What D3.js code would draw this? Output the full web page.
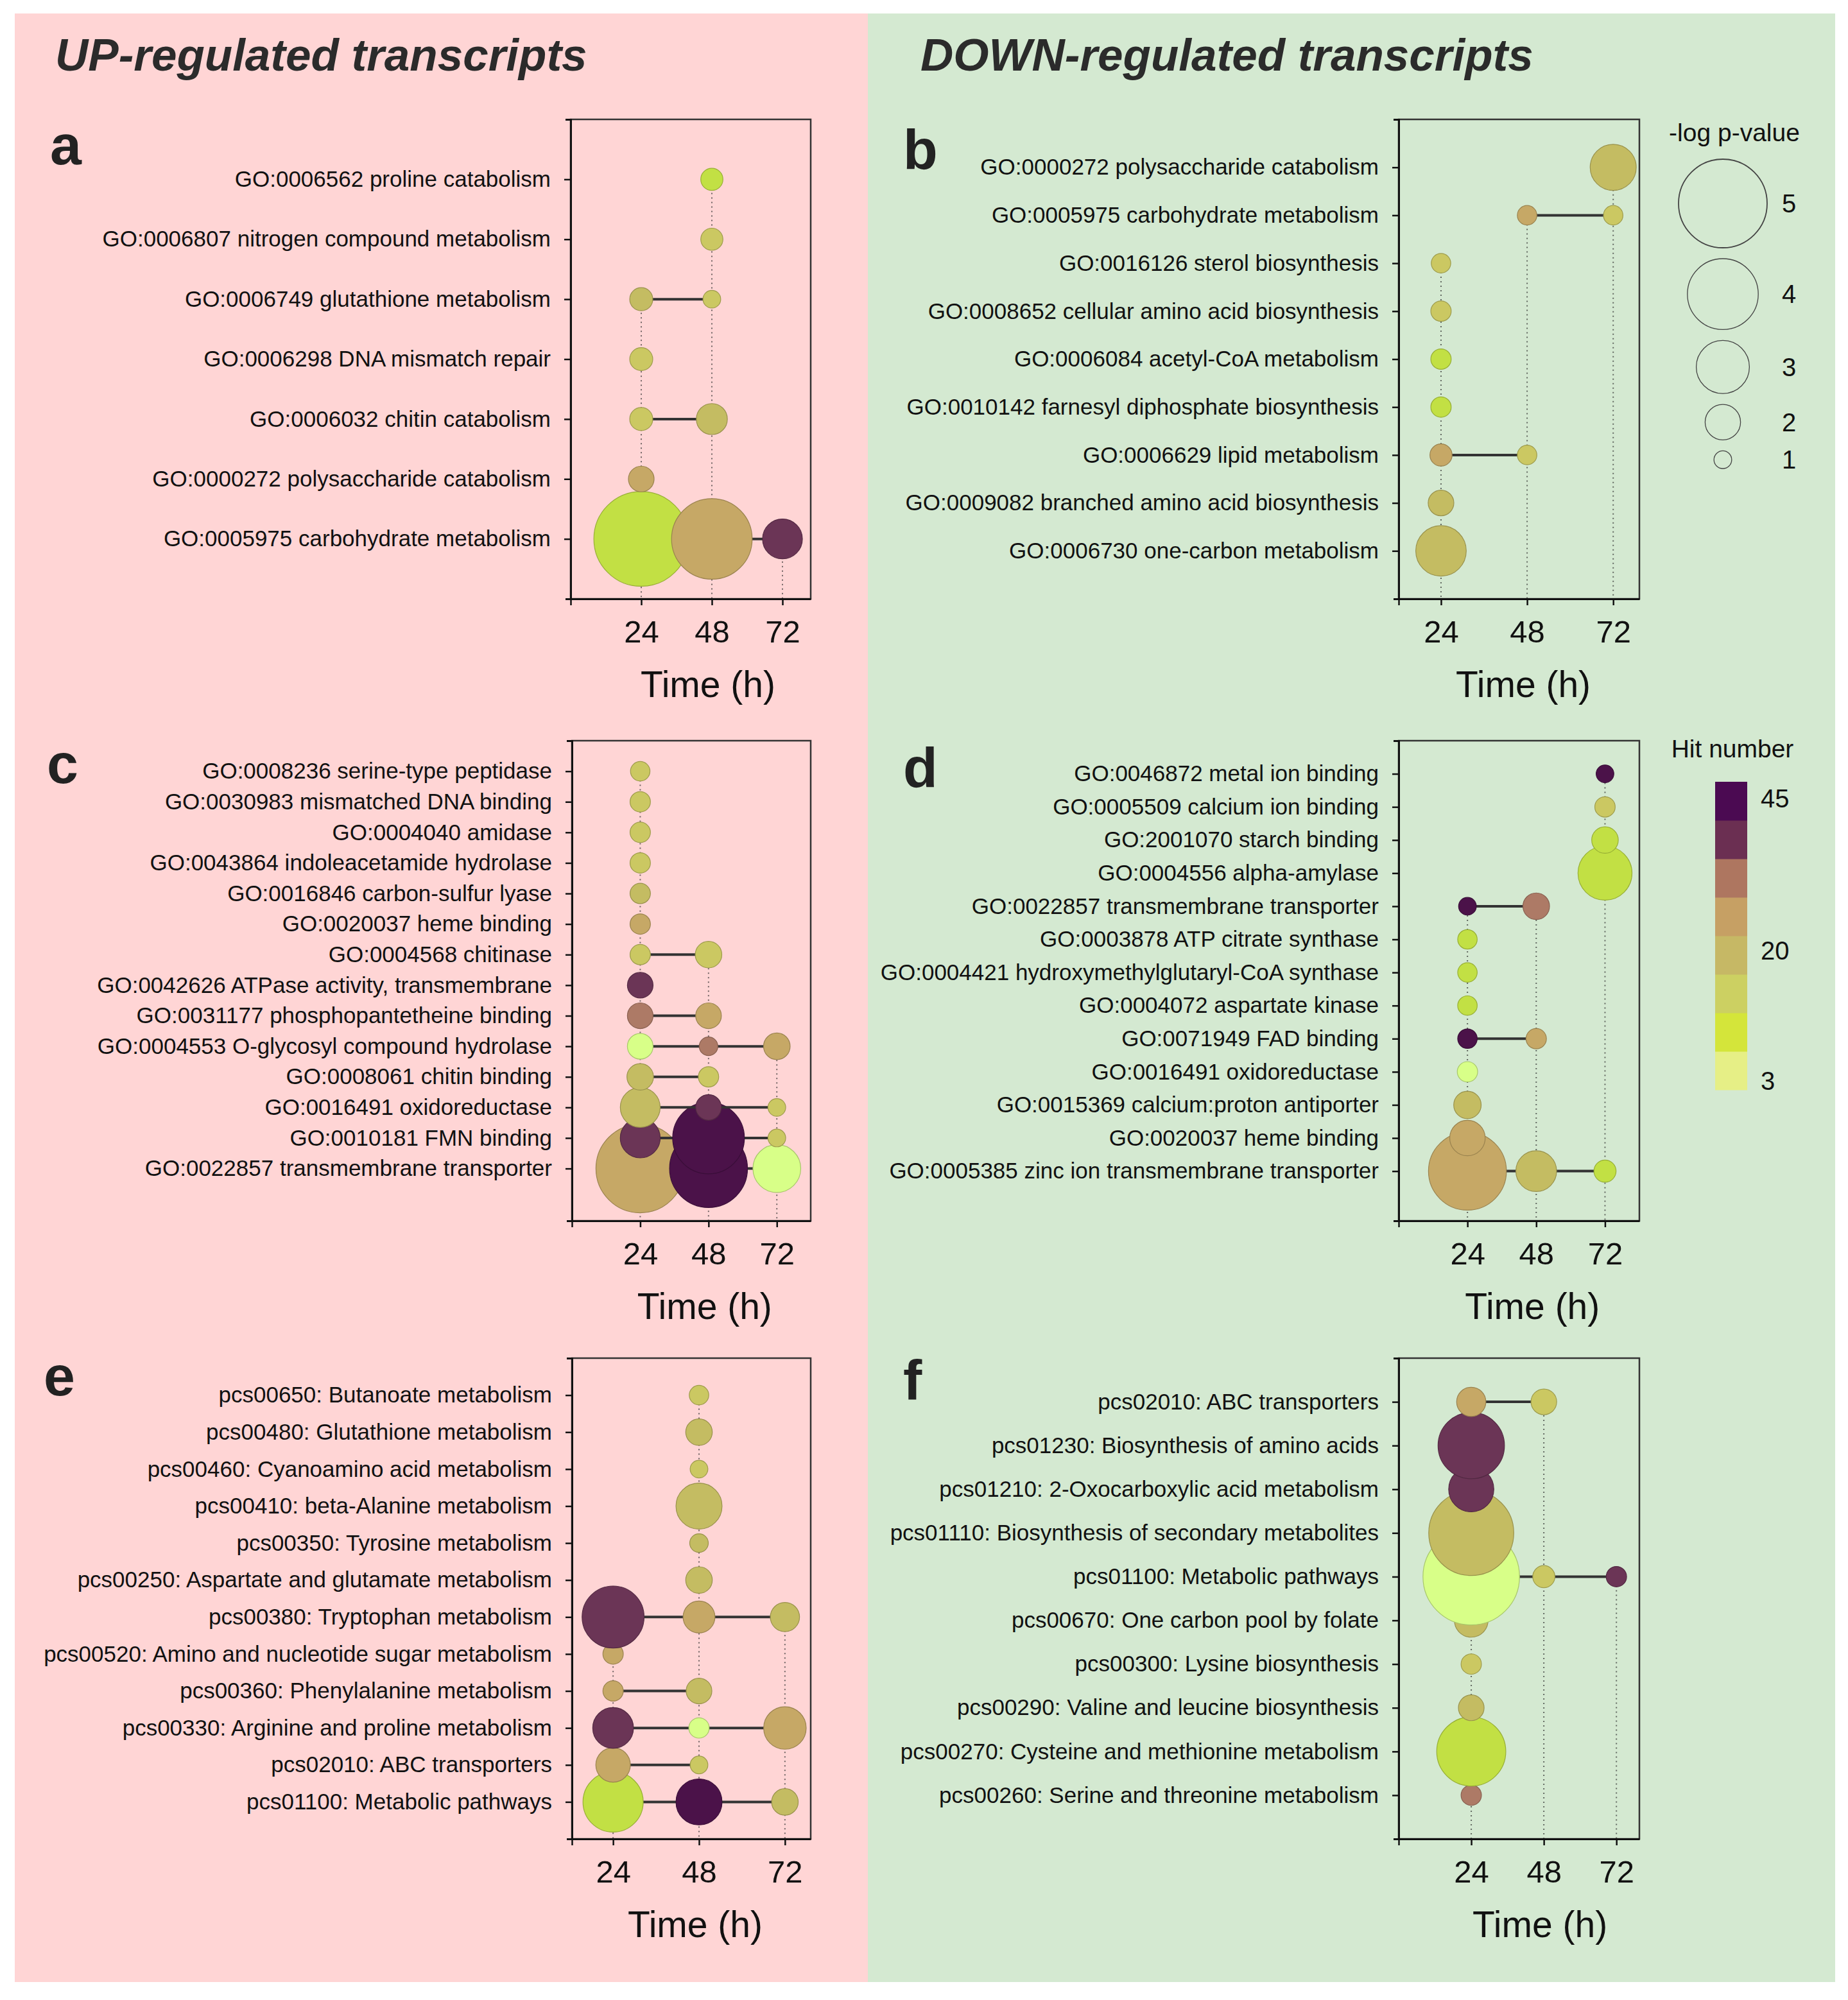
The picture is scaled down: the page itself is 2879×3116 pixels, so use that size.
<!DOCTYPE html>
<html>
<head>
<meta charset="utf-8">
<script src="https://cdn.jsdelivr.net/npm/d3@7"></script>
<style>
  body { margin: 0; background: #fff; }
  svg { display: block; }
  text { font-family: "Liberation Sans", Arial, sans-serif; }
</style>
</head>
<body>
<script>
// time points (h)
const timePoints = [24, 48, 72];

// a: GO terms, UP-regulated. values per row are [24h, 48h, 72h], null = not enriched
const aTerms = ["GO:0006562 proline catabolism", "GO:0006807 nitrogen compound metabolism",
  "GO:0006749 glutathione metabolism", "GO:0006298 DNA mismatch repair", "GO:0006032 chitin catabolism",
  "GO:0000272 polysaccharide catabolism", "GO:0005975 carbohydrate metabolism"];
const aLogP = [[null, 1.25, null], [null, 1.25, null], [1.3, 1.0, null], [1.3, null, null],
  [1.3, 1.75, null], [1.45, null, null], [5.35, 4.55, 2.25]];
const aHits = [[null, 11, null], [null, 16, null], [21, 16, null], [16, null, null],
  [16, 21, null], [27, null, null], [11, 27, 37]];

// b: GO terms, DOWN-regulated
const bTerms = ["GO:0000272 polysaccharide catabolism", "GO:0005975 carbohydrate metabolism",
  "GO:0016126 sterol biosynthesis", "GO:0008652 cellular amino acid biosynthesis",
  "GO:0006084 acetyl-CoA metabolism", "GO:0010142 farnesyl diphosphate biosynthesis",
  "GO:0006629 lipid metabolism", "GO:0009082 branched amino acid biosynthesis",
  "GO:0006730 one-carbon metabolism"];
const bLogP = [[null, null, 2.6], [null, 1.1, 1.1], [1.1, null, null], [1.15, null, null],
  [1.15, null, null], [1.15, null, null], [1.25, 1.1, null], [1.45, null, null], [2.85, null, null]];
const bHits = [[null, null, 21], [null, 27, 16], [16, null, null], [16, null, null],
  [11, null, null], [11, null, null], [27, 16, null], [21, null, null], [21, null, null]];

// c: GO functions, UP-regulated
const cTerms = ["GO:0008236 serine-type peptidase", "GO:0030983 mismatched DNA binding",
  "GO:0004040 amidase", "GO:0043864 indoleacetamide hydrolase", "GO:0016846 carbon-sulfur lyase",
  "GO:0020037 heme binding", "GO:0004568 chitinase", "GO:0042626 ATPase activity, transmembrane",
  "GO:0031177 phosphopantetheine binding", "GO:0004553 O-glycosyl compound hydrolase",
  "GO:0008061 chitin binding", "GO:0016491 oxidoreductase", "GO:0010181 FMN binding",
  "GO:0022857 transmembrane transporter"];
const cLogP = [[1.1, null, null], [1.15, null, null], [1.15, null, null], [1.15, null, null],
  [1.15, null, null], [1.15, null, null], [1.15, 1.5, null], [1.45, null, null], [1.45, 1.45, null],
  [1.45, 1.05, 1.5], [1.5, 1.15, null], [2.25, 1.45, 1.0], [2.25, 4.05, 1.0], [5.0, 4.4, 2.7]];
const cHits = [[16, null, null], [16, null, null], [16, null, null], [16, null, null],
  [21, null, null], [27, null, null], [16, 16, null], [37, null, null], [32, 27, null],
  [5, 32, 27], [21, 16, null], [21, 37, 16], [37, 43, 16], [27, 43, 5]];

// d: GO functions, DOWN-regulated
const dTerms = ["GO:0046872 metal ion binding", "GO:0005509 calcium ion binding",
  "GO:2001070 starch binding", "GO:0004556 alpha-amylase", "GO:0022857 transmembrane transporter",
  "GO:0003878 ATP citrate synthase", "GO:0004421 hydroxymethylglutaryl-CoA synthase",
  "GO:0004072 aspartate kinase", "GO:0071949 FAD binding", "GO:0016491 oxidoreductase",
  "GO:0015369 calcium:proton antiporter", "GO:0020037 heme binding",
  "GO:0005385 zinc ion transmembrane transporter"];
const dLogP = [[null, null, 1.0], [null, null, 1.15], [null, null, 1.5], [null, null, 3.05],
  [1.0, 1.5, null], [1.1, null, null], [1.1, null, null], [1.1, null, null], [1.1, 1.15, null],
  [1.15, null, null], [1.55, null, null], [2.0, null, null], [4.4, 2.3, 1.25]];
const dHits = [[null, null, 43], [null, null, 16], [null, null, 11], [null, null, 11],
  [43, 32, null], [11, null, null], [11, null, null], [11, null, null], [43, 27, null],
  [5, null, null], [21, null, null], [27, null, null], [27, 21, 11]];

// e: KEGG pathways, UP-regulated
const eTerms = ["pcs00650: Butanoate metabolism", "pcs00480: Glutathione metabolism",
  "pcs00460: Cyanoamino acid metabolism", "pcs00410: beta-Alanine metabolism",
  "pcs00350: Tyrosine metabolism", "pcs00250: Aspartate and glutamate metabolism",
  "pcs00380: Tryptophan metabolism", "pcs00520: Amino and nucleotide sugar metabolism",
  "pcs00360: Phenylalanine metabolism", "pcs00330: Arginine and proline metabolism",
  "pcs02010: ABC transporters", "pcs01100: Metabolic pathways"];
const eLogP = [[null, 1.1, null], [null, 1.5, null], [null, 1.0, null], [null, 2.6, null],
  [null, 1.05, null], [null, 1.5, null], [3.5, 1.8, 1.65], [1.15, null, null], [1.15, 1.45, null],
  [2.3, 1.15, 2.4], [1.95, 1.0, null], [3.4, 2.6, 1.5]];
const eHits = [[null, 16, null], [null, 21, null], [null, 16, null], [null, 21, null],
  [null, 21, null], [null, 21, null], [37, 27, 21], [27, null, null], [27, 21, null],
  [37, 5, 27], [27, 16, null], [11, 43, 21]];

// f: KEGG pathways, DOWN-regulated
const fTerms = ["pcs02010: ABC transporters", "pcs01230: Biosynthesis of amino acids",
  "pcs01210: 2-Oxocarboxylic acid metabolism", "pcs01110: Biosynthesis of secondary metabolites",
  "pcs01100: Metabolic pathways", "pcs00670: One carbon pool by folate",
  "pcs00300: Lysine biosynthesis", "pcs00290: Valine and leucine biosynthesis",
  "pcs00270: Cysteine and methionine metabolism", "pcs00260: Serine and threonine metabolism"];
const fLogP = [[1.65, 1.45, null], [3.75, null, null], [2.55, null, null], [4.8, null, null],
  [5.45, 1.25, 1.15], [1.9, null, null], [1.15, null, null], [1.45, null, null],
  [3.9, null, null], [1.15, null, null]];
const fHits = [[27, 16, null], [37, null, null], [37, null, null], [21, null, null],
  [5, 16, 37], [21, null, null], [16, null, null], [21, null, null], [11, null, null], [32, null, null]];

// legends
const pLegend = [5, 4, 3, 2, 1];
const hitTicks = [3, 20, 45];

const W = 2879, H = 3116;
const FONT = "Liberation Sans, Arial, sans-serif";

const svg = d3.select("body").append("svg")
  .attr("width", W).attr("height", H);

// backgrounds
svg.append("rect").attr("x", 23).attr("y", 21).attr("width", 1329).attr("height", 3067).attr("fill", "#ffd5d5");
svg.append("rect").attr("x", 1352).attr("y", 21).attr("width", 1507).attr("height", 3067).attr("fill", "#d4e9d1");

svg.append("text").attr("x", 86).attr("y", 110)
  .attr("font-size", 71).attr("font-weight", "bold").attr("font-style", "italic").attr("fill", "#2b2b2b")
  .text("UP-regulated transcripts");
svg.append("text").attr("x", 1434).attr("y", 110)
  .attr("font-size", 71).attr("font-weight", "bold").attr("font-style", "italic").attr("fill", "#2b2b2b")
  .text("DOWN-regulated transcripts");

const size = d3.scaleLinear().domain([0, 5]).range([0, 69]);
const dotColor = d3.scaleQuantize().domain([3, 45])
  .range(["#d8ff88", "#c2e044", "#cbc862", "#c4bc62", "#c6a866", "#ad7a66", "#6b3556", "#4b1249"]);
const barColor = d3.scaleQuantize().domain([3, 45])
  .range(["#e6ef86", "#d4e53a", "#ccd062", "#c6b865", "#c6a064", "#ae7660", "#6b2f52", "#4b0a52"]);

const panels = [
  { id: "a", terms: aTerms, logp: aLogP, hits: aHits, box: [889, 186, 1263, 933], xdom: [0, 81.6], padB: 0, lab: [78, 256] },
  { id: "b", terms: bTerms, logp: bLogP, hits: bHits, box: [2179, 186, 2554, 933], xdom: [12.2, 79.3], padB: 0, lab: [1407, 263] },
  { id: "c", terms: cTerms, logp: cLogP, hits: cHits, box: [891, 1154, 1263, 1902], xdom: [0, 83.9], padB: 0.71, lab: [73, 1220] },
  { id: "d", terms: dTerms, logp: dLogP, hits: dHits, box: [2179, 1154, 2554, 1902], xdom: [0, 84], padB: 0.5, lab: [1407, 1226] },
  { id: "e", terms: eTerms, logp: eLogP, hits: eHits, box: [891, 2116, 1263, 2865], xdom: [12.5, 79.2], padB: 0, lab: [68, 2174] },
  { id: "f", terms: fTerms, logp: fLogP, hits: fHits, box: [2179, 2116, 2554, 2865], xdom: [0, 79.6], padB: 0, lab: [1407, 2180] }
];

panels.forEach(drawPanel);

function drawPanel(p) {
  const [x0, y0, x1, y1] = p.box;
  const n = p.terms.length;
  const x = d3.scaleLinear().domain(p.xdom).range([x0, x1]);
  const y = d3.scaleLinear().domain([0, n + 1 + p.padB]).range([y0, y1]);
  const g = svg.append("g").attr("class", "panel-" + p.id);

  g.append("text").attr("x", p.lab[0]).attr("y", p.lab[1])
    .attr("font-size", 88).attr("font-weight", "bold").attr("fill", "#222").text(p.id);

  g.append("rect").attr("x", x0).attr("y", y0).attr("width", x1 - x0).attr("height", y1 - y0)
    .attr("fill", "none").attr("stroke", "#333").attr("stroke-width", 2.5);

  const pts = [];
  p.terms.forEach((t, i) => {
    timePoints.forEach((tp, j) => {
      const v = p.logp[i][j];
      if (v != null) pts.push({ row: i + 1, t: tp, v: v, hit: p.hits[i][j] });
    });
  });

  // one dotted drop line per time point, from its top point down to the axis
  const drops = d3.rollups(pts, v => d3.min(v, d => d.row), d => d.t);
  g.append("g").selectAll("line").data(drops).join("line")
    .attr("x1", d => x(d[0])).attr("x2", d => x(d[0]))
    .attr("y1", d => y(d[1])).attr("y2", y1)
    .attr("stroke", "#333").attr("stroke-width", 2)
    .attr("stroke-dasharray", "2,5").attr("opacity", 0.7);

  // rows from the bottom up so upper rows sit on top
  d3.range(n).reverse().forEach(i => {
    const rp = pts.filter(d => d.row === i + 1);
    const rg = g.append("g");
    if (rp.length > 1) {
      rg.append("line")
        .attr("x1", x(d3.min(rp, d => d.t))).attr("x2", x(d3.max(rp, d => d.t)))
        .attr("y1", y(i + 1)).attr("y2", y(i + 1))
        .attr("stroke", "#333").attr("stroke-width", 4);
    }
    rg.selectAll("circle").data(rp).join("circle")
      .attr("cx", d => x(d.t)).attr("cy", d => y(d.row))
      .attr("r", d => size(d.v))
      .attr("fill", d => dotColor(d.hit))
      .attr("stroke", d => d3.color(dotColor(d.hit)).darker(0.7))
      .attr("stroke-width", 1.2);
  });

  const yAxis = d3.axisLeft(y)
    .tickValues(d3.range(1, n + 1))
    .tickFormat(k => p.terms[k - 1])
    .tickSize(10).tickSizeOuter(8).tickPadding(21);
  g.append("g").attr("transform", `translate(${x0},0)`)
    .call(yAxis)
    .attr("font-size", 35).attr("font-family", FONT)
    .call(s => {
      s.select(".domain").attr("stroke", "#111").attr("stroke-width", 3);
      s.selectAll(".tick line").attr("stroke", "#111").attr("stroke-width", 2.5);
      s.selectAll(".tick text").attr("fill", "#111");
    });

  const xAxis = d3.axisBottom(x)
    .tickValues([p.xdom[0]].concat(timePoints))
    .tickFormat(v => timePoints.includes(v) ? v : "")
    .tickSize(10).tickSizeOuter(0).tickPadding(23);
  g.append("g").attr("transform", `translate(0,${y1})`)
    .call(xAxis)
    .attr("font-size", 49).attr("font-family", FONT)
    .call(s => {
      s.select(".domain").attr("stroke", "#111").attr("stroke-width", 3);
      s.selectAll(".tick line").attr("stroke", "#111").attr("stroke-width", 2.5);
      s.selectAll(".tick text").attr("fill", "#111");
    });

  g.append("text").attr("x", x(48) - 6).attr("y", y1 + 153)
    .attr("text-anchor", "middle").attr("font-size", 57).attr("fill", "#111")
    .text("Time (h)");
}

// -log p-value size legend
const lg = svg.append("g");
lg.append("text").attr("x", 2702).attr("y", 220).attr("text-anchor", "middle")
  .attr("font-size", 39).attr("fill", "#111").text("-log p-value");
let cy = 317;
pLegend.forEach((v, k) => {
  if (k > 0) cy += size(pLegend[k - 1]) + size(v) + 17;
  lg.append("circle").attr("cx", 2684).attr("cy", cy).attr("r", size(v))
    .attr("fill", "none").attr("stroke", "#444").attr("stroke-width", k === 0 ? 1.8 : 1.3);
  lg.append("text").attr("x", 2787).attr("y", cy + 14).attr("text-anchor", "middle")
    .attr("font-size", 40).attr("fill", "#111").text(v);
});

// hit number colour bar
const cb = svg.append("g");
cb.append("text").attr("x", 2699).attr("y", 1180).attr("text-anchor", "middle")
  .attr("font-size", 39).attr("fill", "#111").text("Hit number");
const bins = barColor.range().map((c, k) => ({ c: c, k: k }));
const binY = d3.scaleBand().domain(d3.range(bins.length).reverse()).range([1218, 1698]);
cb.selectAll("rect").data(bins).join("rect")
  .attr("x", 2672).attr("width", 50)
  .attr("y", d => binY(d.k)).attr("height", binY.bandwidth() + 0.5)
  .attr("fill", d => d.c);
const hitY = d3.scaleLinear().domain([3, 20, 45]).range([1684, 1481, 1244]);
cb.selectAll("text.tick").data(hitTicks).join("text").attr("class", "tick")
  .attr("x", 2743).attr("y", d => hitY(d) + 14)
  .attr("font-size", 40).attr("fill", "#111").text(d => d);
</script>
</body>
</html>
